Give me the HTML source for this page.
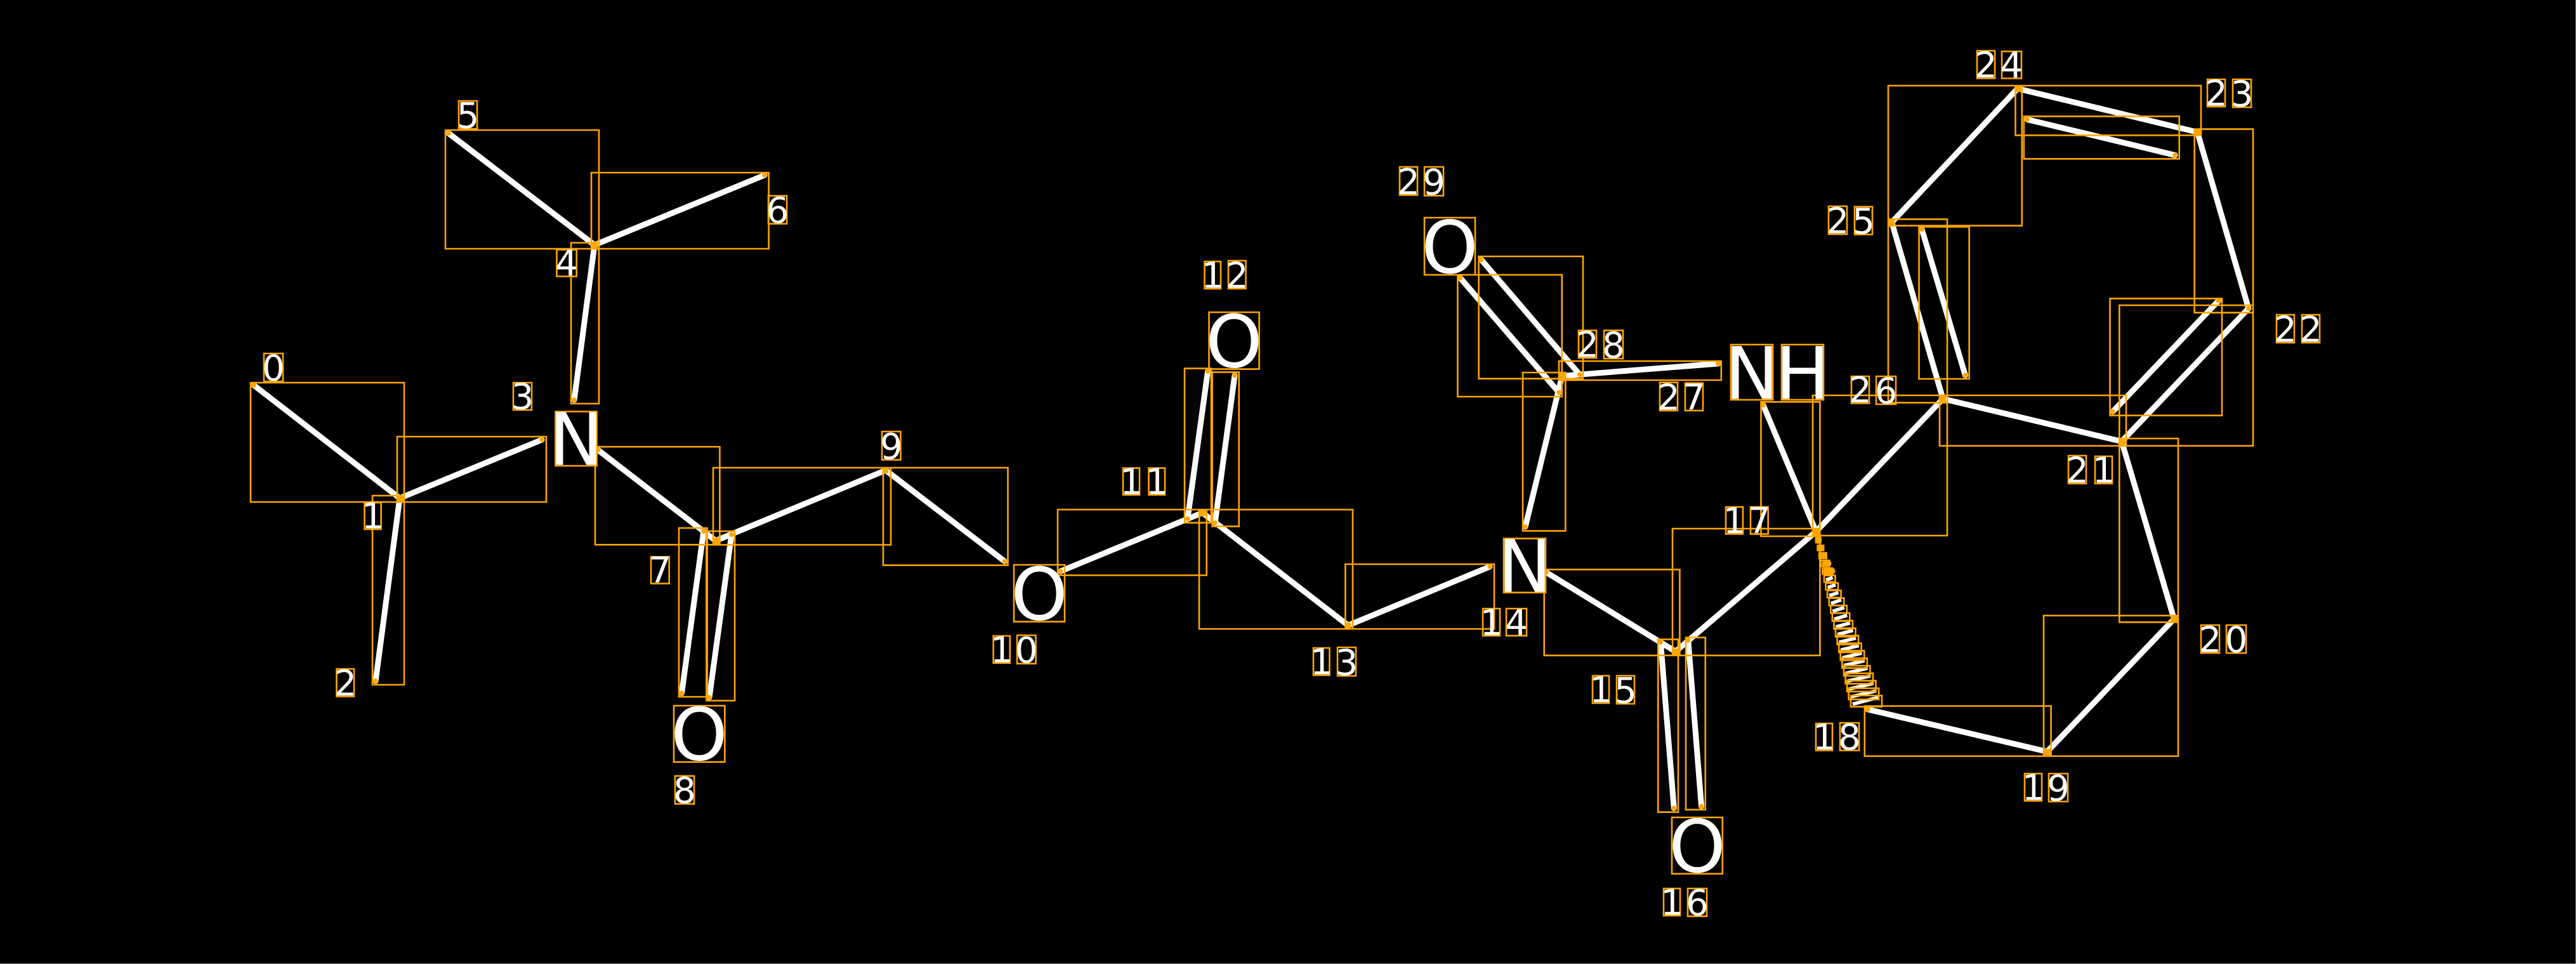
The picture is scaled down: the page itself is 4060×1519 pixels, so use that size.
<!DOCTYPE html>
<html><head><meta charset="utf-8"><style>html,body{margin:0;padding:0;background:#000}svg{display:block}text{font-family:"DejaVu Sans","Liberation Sans",sans-serif;fill:#fff;text-anchor:middle}.d{font-size:56px}.l{font-size:114px}</style></head>
<body>
<svg xmlns="http://www.w3.org/2000/svg" width="4060" height="1519" viewBox="0 0 4060 1519">
<rect width="4060" height="1519" fill="#000"/>
<path d="M4059.5 0V1518.5H0" fill="none" stroke="#808080" stroke-width="1"/>
<path fill="none" stroke="#fff" stroke-width="9" stroke-linecap="round" d="
M400 607L630 785M630 785L854 693M630 785L592 1073
M937 386L707 210M937 386L1205 276M937 386L905 630
M942.5 709L1128 852M1128 852L1396 741M1109 837L1074.5 1092M1153 842.4L1118 1098.7
M1396 741L1583.4 884.5
M1671.4 900.2L1895.3 807.9M1895.3 807.9L2124.8 985.4M1871.7 817.5L1903.6 585M1915 823.7L1946 591.6
M2124.8 985.4L2348 893
M2436.7 901.7L2640.8 1026.6M2640.8 1026.6L2862.2 837.6M2617.3 1011.7L2638.3 1273.4M2660.7 1008.9L2681.6 1270.6
M2404 830L2462 592.3M2301.5 438L2457 618.3M2334.7 409.3L2489.8 590.3M2462 592.3L2707.7 573
M2779 638.3L2862.2 837.6M2862.2 837.6L3062.2 628.4
M2981.6 350.3L3180 139.6M3180 139.6L3463.3 208.3M3195 188.2L3428 244.5M3463.3 208.3L3543.9 486M3543.9 486L3344 695.6M3496.4 474L3330 648.5M3344 695.6L3062.2 628.4M2981.6 350.3L3062.2 628.4M3029 361.4L3097.4 591.3
M3344 695.6L3426.5 975.4M3426.5 975.4L3226.5 1184.4M3226.5 1184.4L2943.9 1117.9"/>
<path fill="none" stroke="#fff" stroke-width="5.5" d="
M2875.4 901.7L2884 897.2M2878 914L2888.5 910M2880.5 926L2893 921.5M2883 938.5L2897.6 933.9M2885.7 950.8L2902 945.3M2888.3 963.2L2906.8 957.2M2890.8 975.6L2911.3 969.6M2893.4 987.9L2915.9 981.6M2896 999.7L2920.5 993.5M2898.6 1012L2925.1 1005.4M2901.2 1024.3L2929.7 1017.3M2903.7 1036.5L2934.2 1029.2M2906.3 1048.6L2938.8 1041.1M2908.9 1061L2943.4 1053M2911.5 1073.4L2948 1064.9M2914 1085.8L2952.5 1076.8M2916.6 1098.2L2957.1 1088.7M2920 1109.5L2960 1099"/>
<path fill="none" stroke="#ffa500" stroke-width="2.6" d="
M2862 847.5h7.5v7.5h-7.5zM2864.6 859.4h9.5v8h-9.5zM2867.2 871.3h11.5v8.5h-11.5zM2869.8 883.1h13.5v9h-13.5zM2872.4 895h15.5v9.5h-15.5zM2875 906.8h17.5v10h-17.5zM2877.5 918.7h19.5v10.5h-19.5zM2880.1 930.5h21.5v11h-21.5zM2882.7 942.4h23.5v11.5h-23.5zM2885.3 954.2h25.5v12h-25.5zM2887.8 966.1h27.5v12.5h-27.5zM2890.4 977.9h29.5v13h-29.5zM2893 989.8h31.5v13.5h-31.5zM2895.6 1001.6h33.5v14h-33.5zM2898.2 1013.5h35.5v14.5h-35.5zM2900.7 1025.3h37.5v15h-37.5zM2903.3 1037.2h39.5v15.5h-39.5zM2905.9 1049h41.5v16h-41.5zM2908.5 1060.9h43.5v16.5h-43.5zM2911 1072.7h45.5v17h-45.5zM2913.6 1084.6h47.5v17.5h-47.5zM2917 1096h49v17.6h-49z"/>
<path fill="none" stroke="#ffa500" stroke-width="2.6" d="
M395 603H637V791H395zM626 688H861V791H626zM587 781H637V1079H587z
M702 205H944V392H702zM932 272H1211.6V392H932zM900 382.5H944V636H900z
M938 704H1134.4V858.3H938zM1124 737H1404V858.5H1124zM1070 832H1114.6V1098H1070zM1113.4 837H1158V1104H1113.4z
M1392 737H1588.5V890.7H1392zM1667 803H1901.7V906.5H1667zM1890 803H2132V991H1890z
M1867 580.6H1909V823.7H1867zM1910.6 586.4H1952.7V829.4H1910.6zM2120.4 889H2355V991H2120.4z
M2433.7 897.4H2647.4V1032.8H2433.7zM2636 833H2868.4V1032.8H2636zM2613.3 1007.4H2645V1279.7H2613.3zM2657 1004.5H2687.8V1275.8H2657z
M2297.4 433H2461.7V625H2297.4zM2330.6 404H2495V596.7H2330.6zM2457 569H2712.8V599H2457zM2400 587H2467.3V836.6H2400z
M2775.5 633.3H2868.4V845H2775.5zM2857 623H3069V844H2857z
M2976 135H3186.7V355.6H2976zM3176.5 135H3469V213.2H3176.5zM3189.8 183.3H3434.7V250.3H3189.8zM3458.7 203.4H3551V492.7H3458.7z
M3340.3 481H3551V702.5H3340.3zM3325.5 470.4H3502V654.7H3325.5zM3057 623H3351V702.5H3057zM2976 345.4H3069V634.6H2976zM3024.5 357.4H3103.6V597H3024.5z
M3340.3 691H3433V980.4H3340.3zM3221 970H3433V1191.5H3221zM2938.8 1112.5H3232.6V1191.5H2938.8z
M875.5 648.5H940.5V734H875.5zM1062 1112H1142.3V1200.7H1062zM1598 890H1678V979.6H1598zM1905.5 492H1984.6V581.6H1905.5zM2370 848.6H2436V933.7H2370zM2635 1288H2714.8V1376.8H2635zM2245 343H2325V433H2245zM2728 543H2794V630H2728zM2808 543H2874V630H2808z
M416 557H446V601H416zM574.5 792H600.6V834H574.5zM530.5 1054H558V1097.5H530.5zM809 603H838V646H809zM877.4 393.4H908.7V435.5H877.4zM723 159H752V203H723zM1211 308.6H1240V352.6H1211zM1026 877.4H1054.7V919.5H1026zM1064 1222.7H1094V1266.7H1064zM1390 680H1419.5V724.6H1390z
M1565.6 1002H1591.7V1044.7H1565.6zM1603 1001H1632.5V1045.7H1603zM1770 737.6H1796V779.7H1770zM1810.5 737.6H1836V779.7H1810.5zM1898.5 412H1924V455H1898.5zM1936 410.8H1963.5V454.8H1936zM2070 1021H2095.5V1064H2070zM2108 1020H2137V1065H2108zM2337 959H2364V1001.7H2337zM2374 959H2406V1001.7H2374zM2510 1064.8H2536V1108H2510zM2548 1064.8H2576V1109H2548zM2622 1400H2648V1442.8H2622zM2660 1400H2690V1443.8H2660zM2720 798.8H2747V841.4H2720zM2759 798.8H2786.7V841.4H2759zM2862 1140H2888V1182.5H2862zM2900 1139H2930V1182.5H2900z
M3191 1219H3218V1262H3191zM3229 1219H3259V1263H3229zM3469 985H3498V1029H3469zM3509 985H3540V1029H3509zM3260 718H3288V762H3260zM3302 719H3329V762H3302zM3588 496H3616V540H3588zM3628 496H3656V540H3628zM3479 125H3507V168H3479zM3519 125H3548V169H3519zM3116 80H3144V123.5H3116zM3155 81H3186V123.5H3155zM2882 325H2911V369H2882zM2923 325.7H2951V369.5H2923zM2918 593H2946V635.5H2918zM2957 593H2988V637H2957zM2616 602.7H2644V647H2616zM2656 603.7H2684V647H2656zM2488 520.7H2516V564H2488zM2528 520.7H2558V565H2528zM2206 263H2234V307.3H2206zM2245 263H2275V308.3H2245z"/>
<path fill="#ffa500" d="
M626 780h10v10h-10zM932 381h10v10h-10zM1123 847h10v10h-10zM1391 737h9v9h-9zM1890 803h10v10h-10zM2120 981h9v9h-9zM2636 1022h10v10h-10zM2857 833h10v10h-10zM2457 587h10v10h-10zM3057 623h10v10h-10zM2976 345h10v10h-10zM3175 135h10v10h-10zM3458 203h11v11h-11zM3339 691h10v10h-10zM3421 970h11v10h-11zM3221 1180h11v10h-11z"/>
<path fill="none" stroke="#ffa500" stroke-width="7.5" stroke-linecap="round" d="
M400 607h0M854 693h0M592 1073h0M707 210h0M1205 276h0M905 630h0M942.5 709h0M1109 837h0M1074.5 1092h0M1153 842.4h0M1118 1098.7h0M1583.4 884.5h0M1671.4 900.2h0M1871.7 817.5h0M1903.6 585h0M1915 823.7h0M1946 591.6h0M2348 893h0M2436.7 901.7h0M2617.3 1011.7h0M2638.3 1273.4h0M2660.7 1008.9h0M2681.6 1270.6h0M2404 830h0M2301.5 438h0M2457 618.3h0M2334.7 409.3h0M2489.8 590.3h0M2707.7 573h0M2779 638.3h0M3195 188.2h0M3428 244.5h0M3543.9 486h0M3496.4 474h0M3330 648.5h0M3029 361.4h0M3097.4 591.3h0M2943.9 1117.9h0"/>
<path fill="none" stroke="#ffa500" stroke-width="11" stroke-linecap="round" d="M2865.8 851.5h0M2870 863.4h0M2874 875.6h0M2877 888h4M2879 900h3M2887 900h0"/>
<text class="l" x="908" y="732.7">N</text>
<text class="l" x="1102" y="1197.7">O</text>
<text class="l" x="1638" y="976.6">O</text>
<text class="l" x="1945" y="578.6">O</text>
<text class="l" x="2403" y="932.4">N</text>
<text class="l" x="2675" y="1373.8">O</text>
<text class="l" x="2285" y="430">O</text>
<text class="l" x="2761" y="628.7">N</text>
<text class="l" x="2841" y="628.7">H</text>
<text class="d" x="431" y="599.5">0</text>
<text class="d" x="587.5" y="832.7">1</text>
<text class="d" x="544.3" y="1096.2">2</text>
<text class="d" x="823.5" y="644.5">3</text>
<text class="d" x="893" y="434.2">4</text>
<text class="d" x="737.5" y="201.5">5</text>
<text class="d" x="1225.5" y="351">6</text>
<text class="d" x="1040.3" y="918.2">7</text>
<text class="d" x="1079" y="1265">8</text>
<text class="d" x="1404.7" y="723">9</text>
<text class="d" x="1578.6" y="1043.4">1</text>
<text class="d" x="1617.7" y="1044">0</text>
<text class="d" x="1783" y="778.4">1</text>
<text class="d" x="1823.2" y="778.4">1</text>
<text class="d" x="1911.2" y="453.7">1</text>
<text class="d" x="1949.7" y="453.5">2</text>
<text class="d" x="2082.7" y="1062.7">1</text>
<text class="d" x="2122.5" y="1063.4">3</text>
<text class="d" x="2350.5" y="1000.4">1</text>
<text class="d" x="2390" y="1000.4">4</text>
<text class="d" x="2523" y="1106.7">1</text>
<text class="d" x="2562" y="1107.4">5</text>
<text class="d" x="2635" y="1441.5">1</text>
<text class="d" x="2675" y="1442.2">6</text>
<text class="d" x="2733.5" y="840.1">1</text>
<text class="d" x="2772.8" y="840.1">7</text>
<text class="d" x="2875" y="1181.2">1</text>
<text class="d" x="2915" y="1180.9">8</text>
<text class="d" x="3204.5" y="1260.7">1</text>
<text class="d" x="3244" y="1261.4">9</text>
<text class="d" x="3483.5" y="1027.7">2</text>
<text class="d" x="3524.5" y="1027.4">0</text>
<text class="d" x="3274" y="760.7">2</text>
<text class="d" x="3315.5" y="760.7">1</text>
<text class="d" x="3602" y="538.7">2</text>
<text class="d" x="3642" y="538.7">2</text>
<text class="d" x="3493" y="166.7">2</text>
<text class="d" x="3533.5" y="167.4">3</text>
<text class="d" x="3130" y="122.2">2</text>
<text class="d" x="3170.5" y="122.2">4</text>
<text class="d" x="2896.5" y="367.7">2</text>
<text class="d" x="2937" y="368">5</text>
<text class="d" x="2932" y="634.2">2</text>
<text class="d" x="2972.5" y="635.4">6</text>
<text class="d" x="2630" y="645.7">2</text>
<text class="d" x="2670" y="645.7">7</text>
<text class="d" x="2502" y="562.7">2</text>
<text class="d" x="2543" y="563.4">8</text>
<text class="d" x="2220" y="306">2</text>
<text class="d" x="2260" y="306.7">9</text>
</svg>
</body></html>
